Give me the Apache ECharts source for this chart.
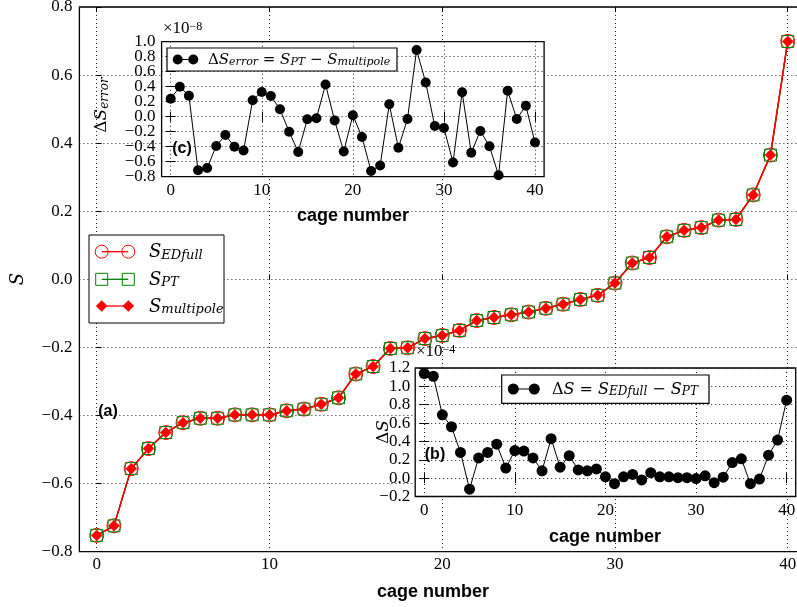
<!DOCTYPE html>
<html>
<head>
<meta charset="utf-8">
<script src="https://cdn.jsdelivr.net/npm/echarts@6/dist/echarts.min.js"></script>
<style>
  html, body { margin: 0; padding: 0; background: #fff; }
  #chart { width: 797px; height: 607px; }
</style>
</head>
<body>
<div id="chart"></div>
<script>
// Cage index along the horizontal axis
const cageNumbers = [0, 1, 2, 3, 4, 5, 6, 7, 8, 9, 10, 11, 12, 13, 14, 15, 16, 17, 18, 19, 20,
  21, 22, 23, 24, 25, 26, 27, 28, 29, 30, 31, 32, 33, 34, 35, 36, 37, 38, 39, 40];

// S from the full exact-diagonalisation calculation
const sEDfull = [-0.752, -0.724, -0.556, -0.497, -0.450, -0.421, -0.408, -0.408, -0.398, -0.398,
  -0.398, -0.386, -0.381, -0.367, -0.348, -0.278, -0.256, -0.203, -0.201, -0.174,
  -0.165, -0.150, -0.121, -0.112, -0.104, -0.096, -0.085, -0.073, -0.059, -0.047,
  -0.011, 0.048, 0.064, 0.125, 0.144, 0.152, 0.174, 0.176, 0.248, 0.365, 0.699];

// ΔS = S_EDfull − S_PT, in units of 1e-4
const deltaS = [1.14, 1.11, 0.69, 0.56, 0.28, -0.12, 0.22, 0.28, 0.37, 0.11,
  0.30, 0.295, 0.22, 0.08, 0.43, 0.12, 0.245, 0.09, 0.08, 0.10,
  0.015, -0.06, 0.015, 0.04, -0.02, 0.06, 0.015, 0.015, 0.005, 0.005,
  -0.005, 0.025, -0.05, 0.01, 0.17, 0.21, -0.06, -0.01, 0.25, 0.415, 0.85];
const deltaSExponent = -4;

// ΔS_error = S_PT − S_multipole, in units of 1e-8
const deltaSError = [0.24, 0.40, 0.28, -0.715, -0.685, -0.39, -0.245, -0.40, -0.45, 0.22,
  0.33, 0.275, 0.10, -0.20, -0.47, -0.035, -0.02, 0.43, -0.05, -0.465,
  0.02, -0.27, -0.725, -0.65, 0.165, -0.415, -0.03, 0.89, 0.455, -0.125,
  -0.15, -0.61, 0.325, -0.48, -0.19, -0.395, -0.78, 0.345, -0.03, 0.145, -0.345];
const deltaSErrorExponent = -8;

// S_PT and S_multipole follow from the differences above
const sPT = sEDfull.map((v, i) => v - deltaS[i] * Math.pow(10, deltaSExponent));
const sMultipole = sPT.map((v, i) => v - deltaSError[i] * Math.pow(10, deltaSErrorExponent));

// tick positions
const xTickValues = [0, 10, 20, 30, 40];
// the (c) inset packs its labels tightly, so they are split over two label rows
const errLabelsA = [1.0, 0.6, 0.2, -0.2, -0.6];
const errLabelsB = [0.8, 0.4, 0.0, -0.4, -0.8];

const serif = 'Liberation Serif';
const mathFont = 'DejaVu Serif';
const tickSize = 17;

function fmt1(v) {
  if (Math.abs(v) < 1e-9) return '0.0';
  return v.toFixed(1).replace('-', '\u2212');
}
const pairs = arr => cageNumbers.map((c, i) => [c, arr[i]]);

const dotted = { type: [1, 3], color: '#222', width: 1 };
const tickLine = { color: '#000', width: 1 };

function xAxisBottom(grid, z, margin) {
  return {
    type: 'value', gridIndex: grid, min: -1, max: 41, position: 'bottom', z: z,
    axisLine: { show: false },
    axisTick: { show: true, inside: true, length: 5, customValues: xTickValues, lineStyle: tickLine },
    axisLabel: { customValues: xTickValues, margin: margin, color: '#000', fontFamily: serif, fontSize: tickSize },
    splitLine: { show: true, lineStyle: dotted }
  };
}
function xAxisTop(grid, z) {
  return {
    type: 'value', gridIndex: grid, min: -1, max: 41, position: 'top', z: z,
    axisLine: { show: false },
    axisTick: { show: true, inside: true, length: 5, customValues: xTickValues, lineStyle: tickLine },
    axisLabel: { show: false },
    splitLine: { show: false }
  };
}
function yAxisLeft(grid, z, min, max, margin, labelValues) {
  const label = { margin: margin, color: '#000', fontFamily: serif, fontSize: tickSize,
    formatter: fmt1, showMinLabel: true, showMaxLabel: true };
  if (labelValues) label.customValues = labelValues;
  return {
    type: 'value', gridIndex: grid, min: min, max: max, interval: 0.2, position: 'left', z: z,
    axisLine: { show: false },
    axisTick: { show: true, inside: true, length: 5, lineStyle: tickLine },
    axisLabel: label,
    splitLine: { show: true, lineStyle: dotted }
  };
}
function yAxisLabelsOnly(grid, z, min, max, margin, labelValues) {
  return {
    type: 'value', gridIndex: grid, min: min, max: max, interval: 0.2, position: 'left', z: z,
    axisLine: { show: false },
    axisTick: { show: false },
    axisLabel: { margin: margin, color: '#000', fontFamily: serif, fontSize: tickSize,
      formatter: fmt1, customValues: labelValues, showMinLabel: true, showMaxLabel: true },
    splitLine: { show: false }
  };
}
function yAxisRight(grid, z, min, max) {
  return {
    type: 'value', gridIndex: grid, min: min, max: max, interval: 0.2, position: 'right', z: z,
    axisLine: { show: false },
    axisTick: { show: true, inside: true, length: 5, lineStyle: tickLine },
    axisLabel: { show: false },
    splitLine: { show: false }
  };
}

// rich-text styles for math-like labels (subscripts sit lower via a shorter line box)
function mathRich(size, subSize) {
  const lm = size + 2;
  const ls = lm - 10;
  return {
    u: { fontFamily: mathFont, fontSize: size, lineHeight: lm, verticalAlign: 'bottom', color: '#000' },
    i: { fontFamily: mathFont, fontStyle: 'italic', fontSize: size, lineHeight: lm, verticalAlign: 'bottom', color: '#000' },
    s: { fontFamily: mathFont, fontStyle: 'italic', fontSize: subSize, lineHeight: ls, verticalAlign: 'bottom', color: '#000' }
  };
}
// rich-text styles for "×10^n" (superscript raised via a shorter line box)
function supRich(size, supSize) {
  return {
    b: { fontFamily: serif, fontSize: size, lineHeight: size + 4, verticalAlign: 'top', color: '#000' },
    p: { fontFamily: serif, fontSize: supSize, lineHeight: supSize - 2, verticalAlign: 'top', color: '#000' }
  };
}

const graphics = [];
const Z = 100;
function text(x, y, str, style, extra) {
  graphics.push(Object.assign({ type: 'text', x: x, y: y, z: Z, silent: true,
    style: Object.assign({ text: str, fill: '#000' }, style) }, extra || {}));
}

// ---- legend of the main panel ----
graphics.push({ type: 'rect', z: Z, silent: true, shape: { x: 89, y: 235, width: 135, height: 88 },
  style: { fill: '#fff', stroke: '#000', lineWidth: 1 } });
[[251.7, '#ff0000'], [279.3, '#008000'], [306, '#ff0000']].forEach(([y, c]) => {
  graphics.push({ type: 'line', z: Z, silent: true, shape: { x1: 101.7, y1: y, x2: 128.3, y2: y }, style: { stroke: c, lineWidth: 1.3 } });
});
[101.7, 128.3].forEach(x => {
  graphics.push({ type: 'circle', z: Z, silent: true, shape: { cx: x, cy: 251.7, r: 6.5 }, style: { fill: 'none', stroke: '#ff0000', lineWidth: 1 } });
  graphics.push({ type: 'rect', z: Z, silent: true, shape: { x: x - 6, y: 273.3, width: 12, height: 12 }, style: { fill: 'none', stroke: '#008000', lineWidth: 1 } });
  graphics.push({ type: 'polygon', z: Z, silent: true, shape: { points: [[x, 300.5], [x + 5.5, 306], [x, 311.5], [x - 5.5, 306]] }, style: { fill: '#ff0000', stroke: '#ff0000', lineWidth: 0.5 } });
});
const lgRich = mathRich(18, 13);
text(149, 251.7, '{i|S}{s|EDfull}', { rich: lgRich, verticalAlign: 'middle' });
text(149, 279.3, '{i|S}{s|PT}', { rich: lgRich, verticalAlign: 'middle' });
text(149, 306, '{i|S}{s|multipole}', { rich: lgRich, verticalAlign: 'middle' });

// ---- legend of inset (c) ----
graphics.push({ type: 'rect', z: Z, silent: true, shape: { x: 167, y: 48, width: 230, height: 23 },
  style: { fill: '#fff', stroke: '#000', lineWidth: 1.2 } });
graphics.push({ type: 'line', z: Z, silent: true, shape: { x1: 177.7, y1: 59.5, x2: 193.3, y2: 59.5 }, style: { stroke: '#000', lineWidth: 1 } });
[177.7, 193.3].forEach(x => graphics.push({ type: 'circle', z: Z, silent: true, shape: { cx: x, cy: 59.5, r: 5 }, style: { fill: '#000' } }));
text(208, 59.5, '{u|Δ}{i|S}{s|error}{u| = }{i|S}{s|PT}{u| − }{i|S}{s|multipole}', { rich: mathRich(15, 11), verticalAlign: 'middle' });

// ---- legend of inset (b) ----
graphics.push({ type: 'rect', z: Z, silent: true, shape: { x: 501.7, y: 375, width: 207.3, height: 28.3 },
  style: { fill: '#fff', stroke: '#000', lineWidth: 1.2 } });
graphics.push({ type: 'line', z: Z, silent: true, shape: { x1: 513.3, y1: 389, x2: 534.3, y2: 389 }, style: { stroke: '#000', lineWidth: 1 } });
[513.3, 534.3].forEach(x => graphics.push({ type: 'circle', z: Z, silent: true, shape: { cx: x, cy: 389, r: 5.5 }, style: { fill: '#000' } }));
text(552, 389, '{u|Δ}{i|S}{u| = }{i|S}{s|EDfull}{u| − }{i|S}{s|PT}', { rich: mathRich(16, 12), verticalAlign: 'middle' });

// ---- panel tags ----
const tagStyle = { font: 'bold 16px "Liberation Sans"', align: 'center', verticalAlign: 'middle' };
text(108, 411.5, '(a)', tagStyle);
text(435, 455, '(b)', tagStyle);
text(182, 148.5, '(c)', tagStyle);

// ---- axis titles ----
const titleStyle = { font: 'bold 18px "Liberation Sans"', align: 'center', verticalAlign: 'middle' };
text(433, 592, 'cage number', titleStyle);
text(353, 216, 'cage number', titleStyle);
text(605, 537, 'cage number', titleStyle);

text(17, 279, '{i|S}', { rich: mathRich(18, 13), align: 'center', verticalAlign: 'middle' }, { rotation: Math.PI / 2 });
text(101, 105, '{u|Δ}{i|S}{s|error}', { rich: mathRich(17, 12), align: 'center', verticalAlign: 'middle' }, { rotation: Math.PI / 2 });
text(383, 432, '{u|Δ}{i|S}', { rich: mathRich(17, 12), align: 'center', verticalAlign: 'middle' }, { rotation: Math.PI / 2 });

// ---- offset (exponent) texts ----
const expStr = e => String(e).replace('-', '−');
text(163, 31, '{b|×10}{p|' + expStr(deltaSErrorExponent) + '}', { rich: supRich(17, 12), verticalAlign: 'middle' });
text(416, 354, '{b|×10}{p|' + expStr(deltaSExponent) + '}', { rich: supRich(17, 12), verticalAlign: 'middle' });

const option = {
  animation: false,
  backgroundColor: '#fff',
  grid: [
    { left: 79.4, top: 7, width: 725.6, height: 544.7, show: true, borderColor: '#000', borderWidth: 1.3,
      backgroundColor: 'transparent', z: 0, outerBoundsMode: 'none' },
    { left: 161.6, top: 41.7, width: 382.5, height: 135, show: true, borderColor: '#000', borderWidth: 1.3,
      backgroundColor: '#fff', z: 3, outerBoundsMode: 'none' },
    { left: 415.2, top: 368, width: 380.5, height: 128.5, show: true, borderColor: '#000', borderWidth: 1.3,
      backgroundColor: '#fff', z: 3, outerBoundsMode: 'none' }
  ],
  xAxis: [
    xAxisBottom(0, 0, 4), xAxisTop(0, 0),
    xAxisBottom(1, 3, 5), xAxisTop(1, 3),
    xAxisBottom(2, 3, 6), xAxisTop(2, 3)
  ],
  yAxis: [
    yAxisLeft(0, 0, -0.8, 0.8, 7),
    yAxisLeft(1, 3, -0.8, 1.0, 6, errLabelsA), yAxisRight(1, 3, -0.8, 1.0),
    yAxisLeft(2, 3, -0.2, 1.2, 5), yAxisRight(2, 3, -0.2, 1.2),
    yAxisLabelsOnly(1, 3, -0.8, 1.0, 6, errLabelsB)
  ],
  series: [
    {
      name: 'S_EDfull', type: 'line', xAxisIndex: 0, yAxisIndex: 0, data: pairs(sEDfull), z: 2,
      symbol: 'circle', symbolSize: 14,
      lineStyle: { color: '#ff0000', width: 1.3 },
      itemStyle: { color: 'rgba(0,0,0,0)', borderColor: '#ff0000', borderWidth: 1 }
    },
    {
      name: 'S_PT', type: 'line', xAxisIndex: 0, yAxisIndex: 0, data: pairs(sPT), z: 2,
      symbol: 'rect', symbolSize: 12,
      lineStyle: { color: '#008000', width: 1.3 },
      itemStyle: { color: 'rgba(0,0,0,0)', borderColor: '#008000', borderWidth: 1 }
    },
    {
      name: 'S_multipole', type: 'line', xAxisIndex: 0, yAxisIndex: 0, data: pairs(sMultipole), z: 2,
      symbol: 'diamond', symbolSize: 11,
      lineStyle: { color: '#ff0000', width: 1.5 },
      itemStyle: { color: '#ff0000', borderColor: '#ff0000', borderWidth: 0.5 }
    },
    {
      name: 'ΔS_error', type: 'line', xAxisIndex: 2, yAxisIndex: 1, data: pairs(deltaSError), z: 4,
      symbol: 'circle', symbolSize: 10,
      lineStyle: { color: '#000', width: 1 },
      itemStyle: { color: '#000' }
    },
    {
      name: 'ΔS', type: 'line', xAxisIndex: 4, yAxisIndex: 3, data: pairs(deltaS), z: 4,
      symbol: 'circle', symbolSize: 11,
      lineStyle: { color: '#000', width: 1 },
      itemStyle: { color: '#000' }
    }
  ],
  graphic: graphics
};

const chart = echarts.init(document.getElementById('chart'), null, { renderer: 'canvas' });
chart.setOption(option);
</script>
</body>
</html>
